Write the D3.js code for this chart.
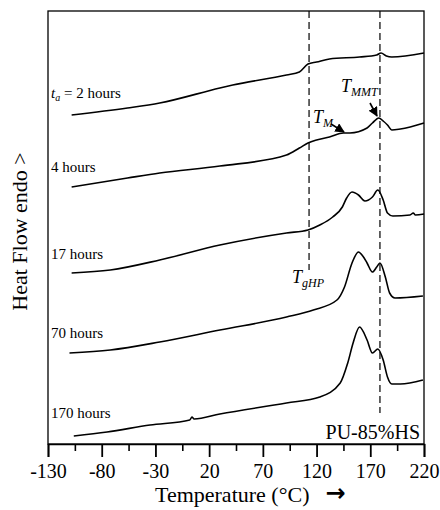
<!DOCTYPE html>
<html>
<head>
<meta charset="utf-8">
<script src="https://cdn.jsdelivr.net/npm/d3@7"></script>
<style>
  body { margin: 0; background: #fff; }
  svg text { font-family: "Liberation Serif", "Times New Roman", serif; fill: #000; }
</style>
</head>
<body>
<div id="chart"></div>
<script>
'use strict';

// temperature (°C) and heat flow (a.u., offset per curve)
var temp2h = [-108, -56, -26, 30, 42, 92, 104, 112, 120, 132, 160, 176, 180, 185, 190, 220];
var heat2h = [329, 336, 341, 356, 359, 369, 372, 380, 382, 385, 387, 389, 391, 388, 387, 391];

var temp4h = [-108, -56, -26, 30, 92, 104, 112, 120, 132, 145, 151, 167, 172, 178, 182, 186, 190, 198, 220];
var heat4h = [257, 266, 271, 278, 289, 296, 301, 304, 307, 311, 311, 316, 321, 326, 323, 319, 314, 315, 321];

var temp17h = [-108, -72, -26, 30, 92, 112, 123, 135, 144, 148, 153, 159, 165, 172, 177, 182, 186, 191, 207, 210, 212, 220];
var heat17h = [171, 174, 184, 199, 211, 214, 219, 227, 237, 246, 252, 249, 243, 247, 254, 244, 231, 228, 229, 231, 229, 230];

var temp70h = [-110, -72, -26, 30, 92, 117, 139, 146, 153, 159, 163, 167, 172, 176, 179, 184, 188, 193, 219];
var heat70h = [91, 94, 102, 114, 127, 134, 144, 157, 181, 192, 188, 181, 172, 177, 181, 167, 151, 146, 148];

var temp170h = [-106, -75, -35, 2, 4, 6, 30, 92, 123, 142, 149, 154, 160, 167, 172, 177, 182, 186, 190, 198, 219];
var heat170h = [8, 12, 19, 24, 27, 25, 30, 41, 47, 61, 81, 101, 117, 104, 91, 95, 84, 67, 60, 60, 64];

var curveNames = ['2 hours', '4 hours', '17 hours', '70 hours', '170 hours'];
var curveTemps = [temp2h, temp4h, temp17h, temp70h, temp170h];
var curveHeats = [heat2h, heat4h, heat17h, heat70h, heat170h];
var labelHeat = [346, 272, 185, 106, 26];   // heat flow level of the label baselines

var majorTicks = [-130, -80, -30, 20, 70, 120, 170, 220];
var minorTicks = [-105, -55, -5, 45, 95, 145, 195];

var tgHP = 113, tMMT = 179;   // dashed guide lines

var width = 440, height = 510;
var margin = { left: 48, top: 11, right: 16, bottom: 66 };
var w = width - margin.left - margin.right,
    h = height - margin.top - margin.bottom;

var svg = d3.select('#chart').append('svg')
    .attr('width', width)
    .attr('height', height);

var x = d3.scaleLinear().domain([-130, 220]).range([margin.left, margin.left + w]);
var y = d3.scaleLinear().domain([0, h]).range([margin.top + h, margin.top]);

// frame
svg.append('rect')
    .attr('x', margin.left).attr('y', margin.top)
    .attr('width', w).attr('height', h)
    .attr('fill', 'none').attr('stroke', '#000').attr('stroke-width', 1.3);

// x axis, major ticks with labels
var xAxis = svg.append('g')
    .attr('transform', 'translate(0,' + (margin.top + h) + ')')
    .call(d3.axisBottom(x).tickValues(majorTicks).tickSize(13).tickFormat(d3.format('d')));
xAxis.select('.domain').attr('stroke-width', 1.6);
xAxis.selectAll('.tick line').attr('stroke-width', 1.8);
xAxis.selectAll('.tick text')
    .attr('y', 20)
    .attr('dy', '0.71em')
    .style('font-size', '20px')
    .style('font-family', '"Liberation Serif", serif')
    .text(function (d) { return d < 0 ? '-' + Math.abs(d) : d; });

// minor ticks
var xMinor = svg.append('g')
    .attr('transform', 'translate(0,' + (margin.top + h) + ')')
    .call(d3.axisBottom(x).tickValues(minorTicks).tickSize(7).tickFormat(''));
xMinor.select('.domain').remove();
xMinor.selectAll('.tick line').attr('stroke-width', 1.6);

// dashed guides
svg.append('line')
    .attr('x1', x(tgHP)).attr('x2', x(tgHP))
    .attr('y1', margin.top).attr('y2', 270)
    .attr('stroke', '#000').attr('stroke-width', 1.2).attr('stroke-dasharray', '7,4');
svg.append('line')
    .attr('x1', x(tMMT)).attr('x2', x(tMMT))
    .attr('y1', margin.top).attr('y2', 413)
    .attr('stroke', '#000').attr('stroke-width', 1.2).attr('stroke-dasharray', '7,4');

// curves
var line = d3.line()
    .x(function (d) { return x(d[0]); })
    .y(function (d) { return y(d[1]); })
    .curve(d3.curveMonotoneX);

curveTemps.forEach(function (temps, i) {
    var pts = temps.map(function (t, j) { return [t, curveHeats[i][j]]; });
    svg.append('path')
        .datum(pts)
        .attr('d', line)
        .attr('fill', 'none')
        .attr('stroke', '#000')
        .attr('stroke-width', 1.6);
});

// curve labels
curveNames.forEach(function (name, i) {
    var t = svg.append('text')
        .attr('x', 51)
        .attr('y', y(labelHeat[i]))
        .style('font-size', '15px');
    if (i === 0) {
        t.append('tspan').style('font-style', 'italic').text('t');
        t.append('tspan').style('font-style', 'italic').style('font-size', '10px').attr('dy', 3).text('a');
        t.append('tspan').attr('dy', -3).text(' = ' + name);
    } else {
        t.text(name);
    }
});

// annotations
function subLabel(px, py, main, sub) {
    var t = svg.append('text').attr('x', px).attr('y', py).style('font-style', 'italic').style('font-size', '18px');
    t.append('tspan').text(main);
    t.append('tspan').attr('dy', 4).style('font-size', '12px').text(sub);
}
subLabel(341, 92, 'T', 'MMT');
subLabel(313, 123, 'T', 'M');
subLabel(292, 283, 'T', 'gHP');

svg.append('defs').append('marker')
    .attr('id', 'head')
    .attr('viewBox', '0 0 10 10')
    .attr('refX', 9).attr('refY', 5)
    .attr('markerWidth', 6).attr('markerHeight', 6)
    .attr('orient', 'auto')
    .append('path').attr('d', 'M0,0L10,5L0,10z').attr('fill', '#000');

svg.append('line')
    .attr('x1', 370).attr('y1', 103).attr('x2', 377).attr('y2', 116)
    .attr('stroke', '#000').attr('stroke-width', 1.6).attr('marker-end', 'url(#head)');
svg.append('line')
    .attr('x1', 331).attr('y1', 124).attr('x2', 344).attr('y2', 132)
    .attr('stroke', '#000').attr('stroke-width', 1.6).attr('marker-end', 'url(#head)');

// sample name
svg.append('text')
    .attr('x', margin.left + w - 4)
    .attr('y', margin.top + h - 5)
    .attr('text-anchor', 'end')
    .style('font-size', '20px')
    .text('PU-85%HS');

// axis titles
var xt = svg.append('text')
    .attr('x', 155)
    .attr('y', 502)
    .style('font-size', '22px');
xt.append('tspan').text('Temperature (°C)');
xt.append('tspan').attr('dx', 16).attr('dy', -1).style('font-family', '"DejaVu Sans", sans-serif').style('font-weight', 'bold').style('font-size', '24px').text('→');

svg.append('text')
    .attr('transform', 'translate(27,' + (margin.top + h / 2 + 4) + ') rotate(-90)')
    .attr('text-anchor', 'middle')
    .style('font-size', '22px')
    .text('Heat Flow endo >');
</script>
</body>
</html>
